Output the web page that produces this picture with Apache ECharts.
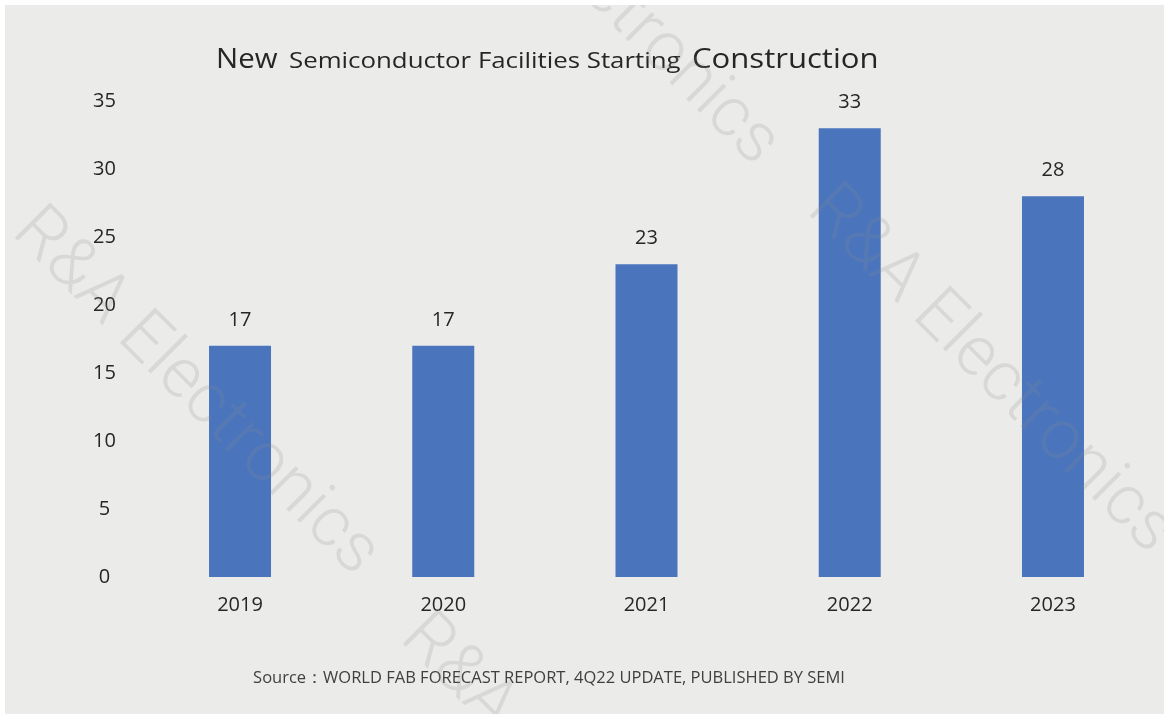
<!DOCTYPE html>
<html>
<head>
<meta charset="utf-8">
<script src="https://cdn.jsdelivr.net/npm/echarts@6/dist/echarts.min.js"></script>
<style>
  html, body { margin: 0; padding: 0; background: #ffffff; }
  #chart { position: absolute; left: 5px; top: 5px; width: 1159px; height: 709px; }
</style>
</head>
<body>
<div id="chart"></div>
<script>
// Number of new fabs starting construction per year
const years = ['2019', '2020', '2021', '2022', '2023'];
const newFacilities = [17, 17, 23, 33, 28];

const titleLead = 'New';
const titleMiddle = 'Semiconductor Facilities Starting';
const titleTail = 'Construction';
const sourceNote = 'Source：WORLD FAB FORECAST REPORT, 4Q22 UPDATE, PUBLISHED BY SEMI';
const watermark = 'R&A Electronics';

const textColor = '#262626';
const barColor = '#4a75bd';

// centres of the diagonal watermark copies
const markCentres = [[190, 388], [590, -22], [985, 366], [578, 794]];

const chart = echarts.init(document.getElementById('chart'), null, { renderer: 'canvas' });

// title pieces share one baseline; the middle words are set smaller and wider
function titlePiece(text, x, size, stretch) {
  const baseline = 63;
  return {
    type: 'text',
    x: x,
    y: baseline - 0.3 * size,
    scaleX: stretch,
    z: 10,
    style: {
      text: text,
      align: 'left',
      verticalAlign: 'middle',
      fontFamily: 'Open Sans',
      fontSize: size,
      fill: textColor
    }
  };
}

const graphics = [
  titlePiece(titleLead, 211, 28, 1.05),
  titlePiece(titleMiddle, 284, 21, 1.23),
  titlePiece(titleTail, 687, 28, 1.11),
  {
    type: 'text',
    x: 544,
    y: 673,
    z: 10,
    style: {
      text: sourceNote,
      align: 'center',
      verticalAlign: 'middle',
      fontFamily: 'Open Sans',
      fontSize: 16.5,
      fill: '#404040'
    }
  }
];

markCentres.forEach(function (c) {
  graphics.push({
    type: 'text',
    x: c[0],
    y: c[1],
    rotation: -Math.PI / 4,
    z: 100,
    silent: true,
    style: {
      text: watermark,
      align: 'center',
      verticalAlign: 'middle',
      fontFamily: 'Roboto',
      fontWeight: 300,
      fontSize: 70,
      fill: 'rgba(140,140,140,0.2)'
    }
  });
});

chart.setOption({
  backgroundColor: '#ebebea',
  animation: false,
  grid: { left: 133.4, right: 9.4, top: 96, bottom: 137 },
  xAxis: {
    type: 'category',
    data: years,
    axisLine: { show: false },
    axisTick: { show: false },
    axisLabel: { color: textColor, fontFamily: 'Open Sans', fontSize: 20, margin: 18 }
  },
  yAxis: {
    type: 'value',
    min: 0,
    max: 35,
    interval: 5,
    splitLine: { show: false },
    axisLine: { show: false },
    axisTick: { show: false },
    axisLabel: { color: textColor, fontFamily: 'Open Sans', fontSize: 20, align: 'center', margin: 34 }
  },
  series: [{
    type: 'bar',
    data: newFacilities,
    barWidth: 62,
    itemStyle: { color: barColor },
    label: {
      show: true,
      position: 'top',
      distance: 16,
      color: textColor,
      fontFamily: 'Open Sans',
      fontSize: 20
    }
  }],
  graphic: graphics
});
</script>
</body>
</html>
